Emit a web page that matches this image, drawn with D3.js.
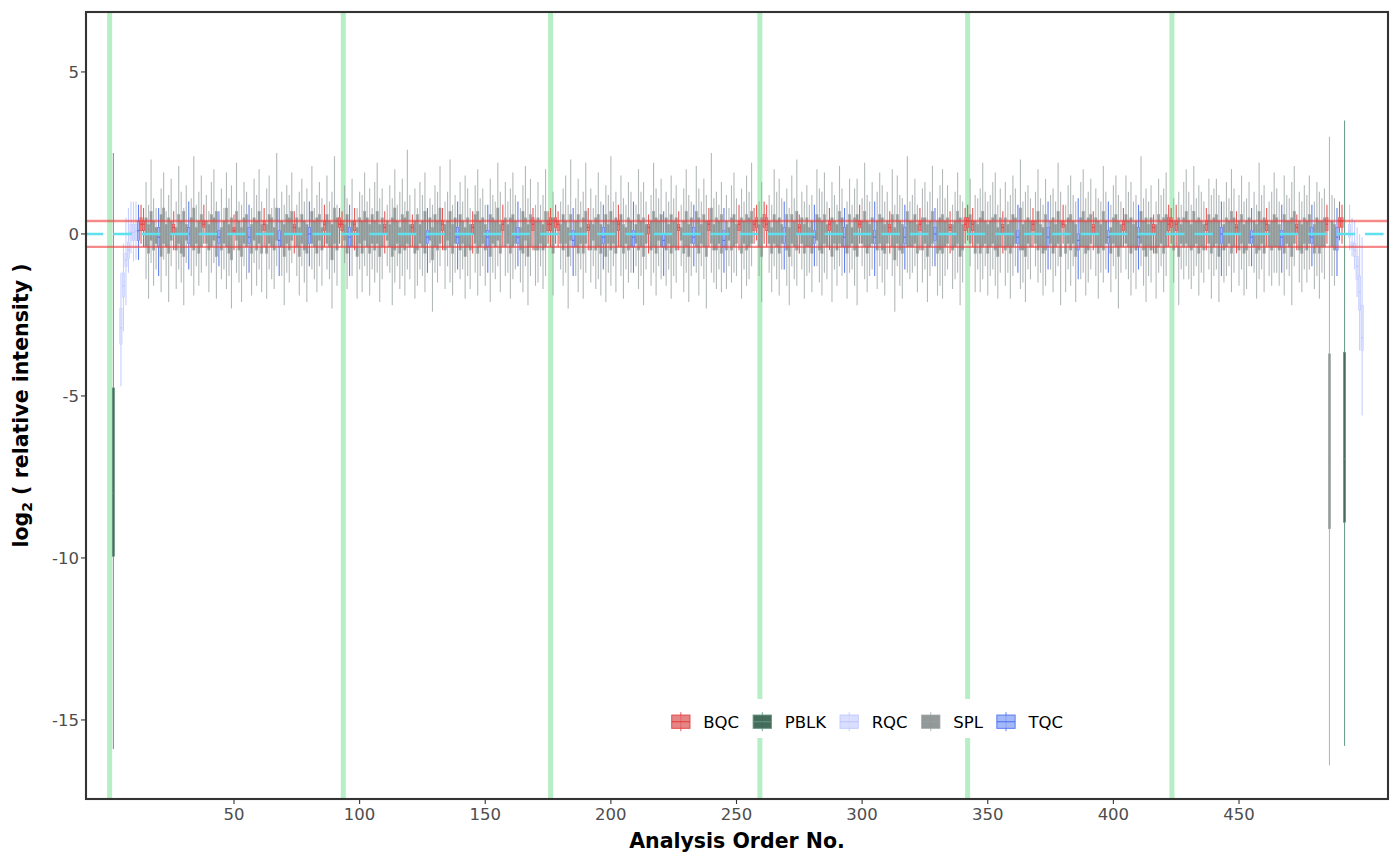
<!DOCTYPE html>
<html>
<head>
<meta charset="utf-8">
<script src="https://cdn.jsdelivr.net/npm/d3@7"></script>
<style>
  body { margin: 0; background: #fff; }
  svg { display: block; font-family: "DejaVu Sans", sans-serif; }
</style>
</head>
<body>
<div id="chart"></div>
<script>
// sample types in legend order
var sampleTypes = ['BQC', 'PBLK', 'RQC', 'SPL', 'TQC'];

// axis breaks
var xTickValues = [50, 100, 150, 200, 250, 300, 350, 400, 450];
var yTickValues = [5, 0, -5, -10, -15];

// batch boundaries (analysis order)
var batchLines = [0.5, 93.5, 176, 259.3, 342, 423.3];
// reference band
var refLine = 0;
var limitLines = [0.4, -0.4];

// --- BQC ---
var bqcOrder = [13, 14, 26, 38, 50, 62, 74, 86, 92, 93,
                98, 110, 121, 133, 145, 157, 169, 175, 176, 178,
                179, 191, 203, 215, 227, 239, 251, 257, 258, 261,
                262, 275, 287, 299, 311, 323, 335, 341, 342, 344,
                356, 368, 380, 392, 404, 416, 422, 423, 425, 437,
                449, 461, 473, 485, 490, 491];
var bqcHi = [0.9, 0.8, 0.7, 0.9, 0.6, 0.8, 0.7, 0.9, 0.8, 0.7,
             0.8, 0.7, 0.6, 0.8, 0.7, 0.9, 0.8, 0.7, 0.8, 0.9,
             0.7, 0.8, 0.9, 0.6, 0.7, 0.8, 0.9, 0.8, 0.9, 1.0,
             0.9, 0.6, 0.8, 0.9, 0.7, 0.8, 0.7, 0.8, 0.9, 0.8,
             0.7, 0.8, 0.9, 0.7, 0.8, 0.6, 0.9, 0.8, 0.9, 0.8,
             0.7, 0.8, 0.6, 0.9, 1.0, 0.9];
var bqcQ3 = [0.5, 0.4, 0.3, 0.4, 0.2, 0.4, 0.3, 0.4, 0.5, 0.4,
             0.4, 0.3, 0.3, 0.4, 0.3, 0.4, 0.5, 0.4, 0.5, 0.5,
             0.4, 0.3, 0.4, 0.3, 0.3, 0.4, 0.4, 0.4, 0.5, 0.6,
             0.5, 0.3, 0.4, 0.4, 0.3, 0.4, 0.3, 0.5, 0.5, 0.4,
             0.3, 0.4, 0.4, 0.3, 0.4, 0.3, 0.5, 0.5, 0.4, 0.4,
             0.3, 0.4, 0.3, 0.5, 0.5, 0.5];
var bqcMed = [0.3, 0.3, 0.2, 0.3, 0.1, 0.3, 0.2, 0.3, 0.3, 0.3,
              0.3, 0.2, 0.2, 0.3, 0.2, 0.3, 0.3, 0.3, 0.3, 0.4,
              0.3, 0.2, 0.3, 0.2, 0.2, 0.3, 0.3, 0.3, 0.4, 0.4,
              0.3, 0.2, 0.3, 0.3, 0.2, 0.3, 0.2, 0.3, 0.4, 0.3,
              0.2, 0.3, 0.3, 0.2, 0.3, 0.2, 0.3, 0.4, 0.3, 0.3,
              0.2, 0.3, 0.2, 0.3, 0.4, 0.4];
var bqcQ1 = [0.1, 0.1, 0.0, 0.2, 0.0, 0.1, 0.0, 0.1, 0.2, 0.1,
             0.1, 0.0, 0.0, 0.1, 0.0, 0.1, 0.1, 0.1, 0.1, 0.2,
             0.1, 0.1, 0.1, 0.0, 0.1, 0.1, 0.1, 0.1, 0.2, 0.2,
             0.1, 0.0, 0.1, 0.2, 0.0, 0.1, 0.1, 0.1, 0.2, 0.1,
             0.0, 0.1, 0.2, 0.0, 0.1, 0.0, 0.1, 0.2, 0.1, 0.1,
             0.0, 0.1, 0.0, 0.1, 0.2, 0.2];
var bqcLo = [-0.3, -0.4, -0.5, -0.3, -0.5, -0.4, -0.6, -0.4, -0.3, -0.4,
             -0.5, -0.6, -0.4, -0.5, -0.6, -0.4, -0.5, -0.3, -0.4, -0.3,
             -0.4, -0.5, -0.4, -0.6, -0.5, -0.4, -0.5, -0.3, -0.2, -0.3,
             -0.4, -0.6, -0.5, -0.3, -0.6, -0.5, -0.6, -0.3, -0.2, -0.4,
             -0.6, -0.4, -0.3, -0.5, -0.4, -0.6, -0.4, -0.3, -0.4, -0.5,
             -0.6, -0.4, -0.5, -0.3, -0.2, -0.3];

// --- TQC ---
var tqcOrder = [12, 20, 32, 44, 56, 68, 80, 96, 127, 139,
                151, 163, 185, 197, 209, 221, 233, 245, 269, 281,
                293, 305, 317, 329, 362, 374, 386, 398, 410, 443,
                455, 467, 479, 489];
var tqcHi = [0.9, 0.8, 1.0, 0.7, 0.9, 0.8, 1.0, 0.9, 0.8, 1.0,
             0.9, 1.0, 0.8, 0.9, 1.0, 0.7, 0.9, 0.8, 1.0, 0.9,
             0.8, 1.0, 0.9, 0.8, 0.9, 1.0, 1.1, 1.0, 0.9, 1.0,
             0.8, 0.9, 0.9, 0.8];
var tqcQ3 = [0.4, 0.2, 0.2, 0.1, 0.2, 0.1, 0.2, 0.2, 0.1, 0.2,
             0.1, 0.2, 0.1, 0.2, 0.1, 0.0, 0.2, 0.1, 0.2, 0.1,
             0.2, 0.1, 0.2, 0.2, 0.1, 0.2, 0.0, 0.1, 0.2, 0.2,
             0.1, 0.1, 0.2, 0.2];
var tqcMed = [0.1, -0.1, 0.0, -0.1, -0.1, -0.2, 0.0, -0.1, -0.1, -0.1,
              -0.1, -0.1, -0.2, -0.1, -0.1, -0.2, -0.1, -0.2, 0.0, -0.1,
              -0.1, -0.1, -0.1, 0.0, -0.1, -0.1, -0.2, -0.1, -0.1, 0.0,
              -0.1, -0.1, -0.1, -0.1];
var tqcQ1 = [-0.2, -0.4, -0.3, -0.3, -0.3, -0.4, -0.3, -0.4, -0.3, -0.3,
             -0.4, -0.3, -0.4, -0.3, -0.4, -0.4, -0.3, -0.4, -0.3, -0.3,
             -0.4, -0.3, -0.3, -0.2, -0.3, -0.4, -0.5, -0.3, -0.4, -0.3,
             -0.3, -0.4, -0.3, -0.5];
var tqcLo = [-0.8, -1.3, -1.1, -1.0, -1.2, -1.3, -1.0, -1.3, -1.2, -1.1,
             -1.2, -1.0, -1.3, -1.1, -1.2, -1.3, -1.0, -1.2, -1.1, -1.0,
             -1.2, -1.3, -1.1, -1.0, -1.2, -1.1, -1.4, -1.2, -1.1, -1.3,
             -1.0, -1.2, -1.0, -1.3];

// --- RQC ---
var rqcOrder = [5, 6, 7, 8, 9, 10, 11, 494, 495, 496, 497, 498, 499];
var rqcHi  = [-1.2, -0.3, 0.5, 0.8, 1.0, 1.0, 1.0, 0.9, 0.5, 0.4, 0.2, 0.0, -0.1];
var rqcQ3  = [-2.3, -1.2, -0.6, -0.25, 0.3, 0.3, 0.3, 0.3, -0.25, -0.3, -0.7, -1.3, -2.2];
var rqcMed = [-2.9, -1.6, -0.8, -0.5, 0.05, 0.05, 0.1, 0.1, -0.35, -0.5, -1.0, -1.8, -3.2];
var rqcQ1  = [-3.4, -1.95, -1.0, -0.75, -0.2, -0.2, -0.2, -0.1, -0.45, -0.7, -1.4, -2.35, -3.6];
var rqcLo  = [-4.7, -3.0, -2.2, -1.2, -0.6, -0.85, -0.8, -0.5, -0.7, -1.1, -1.95, -3.6, -5.6];

// --- PBLK ---
var pblkOrder = [2, 492];
var pblkHi  = [2.5, 3.5];
var pblkQ3  = [-4.75, -3.65];
var pblkMed = [-8.0, -6.95];
var pblkQ1  = [-9.95, -8.9];
var pblkLo  = [-15.9, -15.8];

// --- SPL: every order 15..488 that is not a QC injection ---
var splHi = [
  1.6, 0.9, 2.3, 1.1, 0.8, 1.4, 1.9, 0.7, 1.2, 1.7,
  1.0, 2.1, 1.3, 0.8, 1.5, 1.1, 2.4, 0.9, 1.3, 1.8,
  1.2, 0.7, 1.6, 2.0, 1.0, 1.4, 0.8, 1.9, 1.1, 1.5,
  2.2, 1.0, 0.9, 1.6, 1.3, 0.8, 1.7, 1.2, 2.0, 1.0,
  1.4, 1.8, 0.8, 1.1, 2.5, 1.3, 0.9, 1.5, 1.2, 1.9,
  0.9, 1.3, 1.7, 1.0, 1.4, 2.1, 0.8, 1.2, 1.6, 1.1,
  1.8, 1.0, 1.3, 2.4, 0.9, 1.5, 1.1, 1.7, 0.8, 1.3,
  1.2, 1.9, 1.0, 1.4, 0.8, 1.6, 2.2, 1.1, 1.4, 0.9,
  1.5, 1.1, 2.0, 0.9, 1.3, 1.7, 1.0, 2.6, 1.2, 1.4,
  0.8, 1.6, 1.2, 1.9, 1.1, 0.9, 1.5, 1.3, 2.1, 1.0,
  1.3, 2.3, 0.9, 1.2, 1.6, 1.0, 1.8, 1.4, 0.8, 1.5,
  2.0, 1.1, 1.4, 0.9, 1.7, 1.2, 1.0, 2.2, 1.3, 1.6,
  1.0, 1.4, 1.9, 1.2, 0.8, 1.5, 2.1, 1.1, 1.7, 0.9,
  1.6, 0.9, 1.2, 2.0, 1.3, 1.0, 1.4, 1.8, 0.9, 2.3,
  1.1, 1.7, 1.0, 1.3, 2.2, 1.4, 0.8, 1.2, 1.9, 1.0,
  1.5, 1.2, 2.4, 1.0, 1.3, 1.8, 1.1, 0.9, 1.6, 1.3,
  0.9, 2.0, 1.3, 1.6, 1.0, 1.2, 2.2, 1.4, 1.1, 1.7,
  1.3, 1.0, 1.8, 1.1, 1.5, 0.9, 1.4, 2.0, 1.2, 1.0,
  2.1, 1.4, 1.0, 1.7, 1.2, 2.5, 1.1, 1.3, 0.9, 1.6,
  1.2, 0.8, 1.5, 1.9, 1.1, 1.4, 1.0, 1.8, 1.3, 2.2,
  1.0, 1.6, 1.2, 0.9, 2.0, 1.3, 1.7, 1.1, 1.4, 0.8,
  1.8, 1.1, 2.3, 1.3, 1.0, 1.5, 0.9, 1.2, 2.0, 1.4,
  1.3, 1.9, 1.0, 1.6, 1.2, 0.9, 2.1, 1.4, 1.0, 1.7,
  0.9, 1.4, 1.7, 1.1, 2.2, 1.2, 1.0, 1.6, 1.3, 1.9,
  1.5, 1.0, 1.3, 2.0, 0.9, 1.8, 1.2, 1.1, 2.4, 1.0,
  1.2, 1.7, 0.9, 1.4, 1.6, 1.0, 1.3, 2.1, 1.1, 1.5,
  2.0, 1.1, 1.5, 0.9, 1.3, 1.9, 1.2, 1.0, 1.7, 1.2,
  1.1, 1.4, 2.2, 1.3, 1.0, 1.2, 1.6, 1.9, 0.9, 1.4,
  1.6, 1.0, 1.2, 1.8, 1.4, 2.3, 1.0, 1.3, 1.5, 1.1,
  1.3, 2.0, 1.1, 0.9, 1.7, 1.2, 1.4, 1.0, 2.2, 1.3,
  0.9, 1.5, 1.8, 1.2, 1.0, 1.6, 2.0, 1.1, 1.3, 1.7,
  1.4, 1.1, 1.0, 2.1, 1.3, 0.9, 1.5, 1.8, 1.2, 1.0,
  1.8, 1.3, 1.6, 1.0, 1.2, 2.4, 1.1, 1.4, 1.0, 1.5,
  1.0, 1.7, 1.2, 1.4, 1.9, 1.1, 1.3, 0.9, 1.6, 2.0,
  1.3, 0.9, 2.1, 1.1, 1.5, 1.3, 1.0, 1.7, 1.2, 1.4,
  1.7, 1.2, 1.0, 1.6, 1.1, 2.0, 1.4, 1.2, 1.8, 1.0,
  1.1, 1.6, 1.3, 0.9, 2.2, 1.2, 1.5, 1.0, 1.3, 1.9,
  1.4, 1.0, 1.8, 1.2, 1.1, 1.6, 2.1, 1.3, 1.0, 1.5,
  1.2, 1.8, 1.0, 1.6, 1.3, 1.1, 1.4, 3.0, 1.2, 1.1
];
var splQ3 = [
  0.5, 0.3, 0.7, 0.4, 0.2, 0.6, 0.8, 0.3, 0.5, 0.4,
  0.2, 0.6, 0.4, 0.7, 0.3, 0.5, 0.8, 0.2, 0.4, 0.6,
  0.4, 0.3, 0.6, 0.5, 0.7, 0.2, 0.4, 0.8, 0.3, 0.5,
  0.7, 0.4, 0.2, 0.5, 0.6, 0.3, 0.5, 0.4, 0.7, 0.3,
  0.3, 0.6, 0.5, 0.2, 0.8, 0.4, 0.3, 0.6, 0.5, 0.7,
  0.5, 0.2, 0.6, 0.4, 0.3, 0.7, 0.4, 0.5, 0.6, 0.2,
  0.6, 0.4, 0.3, 0.8, 0.5, 0.3, 0.6, 0.4, 0.2, 0.5,
  0.4, 0.7, 0.5, 0.3, 0.6, 0.4, 0.7, 0.3, 0.5, 0.4,
  0.3, 0.5, 0.8, 0.4, 0.2, 0.6, 0.5, 0.7, 0.3, 0.4,
  0.6, 0.3, 0.4, 0.7, 0.5, 0.2, 0.6, 0.4, 0.8, 0.3,
  0.4, 0.7, 0.3, 0.5, 0.6, 0.4, 0.2, 0.5, 0.3, 0.6,
  0.7, 0.4, 0.5, 0.3, 0.6, 0.5, 0.4, 0.8, 0.3, 0.5,
  0.3, 0.5, 0.6, 0.4, 0.2, 0.7, 0.5, 0.3, 0.6, 0.4,
  0.5, 0.4, 0.3, 0.7, 0.5, 0.3, 0.6, 0.4, 0.2, 0.6,
  0.4, 0.6, 0.2, 0.5, 0.7, 0.4, 0.3, 0.5, 0.6, 0.3,
  0.6, 0.3, 0.7, 0.4, 0.5, 0.6, 0.3, 0.2, 0.5, 0.4,
  0.3, 0.6, 0.4, 0.5, 0.3, 0.4, 0.7, 0.5, 0.4, 0.6,
  0.5, 0.3, 0.6, 0.4, 0.5, 0.2, 0.4, 0.7, 0.3, 0.5,
  0.7, 0.5, 0.3, 0.6, 0.4, 0.8, 0.3, 0.5, 0.4, 0.6,
  0.4, 0.2, 0.5, 0.6, 0.3, 0.5, 0.4, 0.6, 0.5, 0.7,
  0.3, 0.5, 0.4, 0.2, 0.6, 0.4, 0.5, 0.3, 0.6, 0.2,
  0.6, 0.4, 0.7, 0.5, 0.3, 0.5, 0.2, 0.4, 0.6, 0.5,
  0.4, 0.6, 0.3, 0.5, 0.4, 0.3, 0.7, 0.5, 0.3, 0.6,
  0.2, 0.5, 0.6, 0.4, 0.7, 0.4, 0.3, 0.5, 0.4, 0.6,
  0.5, 0.3, 0.4, 0.6, 0.2, 0.6, 0.4, 0.3, 0.7, 0.4,
  0.4, 0.6, 0.3, 0.5, 0.5, 0.3, 0.4, 0.7, 0.4, 0.5,
  0.6, 0.4, 0.5, 0.3, 0.4, 0.7, 0.5, 0.3, 0.6, 0.4,
  0.3, 0.5, 0.7, 0.4, 0.3, 0.4, 0.5, 0.6, 0.2, 0.5,
  0.5, 0.3, 0.4, 0.6, 0.5, 0.8, 0.3, 0.4, 0.5, 0.4,
  0.4, 0.7, 0.3, 0.2, 0.6, 0.4, 0.5, 0.3, 0.7, 0.4,
  0.3, 0.5, 0.6, 0.4, 0.3, 0.5, 0.7, 0.4, 0.5, 0.6,
  0.5, 0.4, 0.3, 0.7, 0.4, 0.2, 0.5, 0.6, 0.4, 0.3,
  0.6, 0.4, 0.5, 0.3, 0.4, 0.7, 0.4, 0.5, 0.3, 0.5,
  0.3, 0.6, 0.4, 0.5, 0.6, 0.4, 0.5, 0.3, 0.5, 0.7,
  0.4, 0.3, 0.7, 0.4, 0.5, 0.4, 0.3, 0.6, 0.4, 0.5,
  0.6, 0.4, 0.3, 0.5, 0.4, 0.7, 0.5, 0.4, 0.6, 0.3,
  0.4, 0.5, 0.4, 0.3, 0.7, 0.4, 0.5, 0.3, 0.4, 0.6,
  0.5, 0.3, 0.6, 0.4, 0.4, 0.5, 0.7, 0.4, 0.3, 0.5,
  0.4, 0.6, 0.3, 0.5, 0.4, 0.4, 0.5, -3.7, 0.4, 0.3
];
var splMed = [
  0.1, -0.1, 0.2, 0.0, -0.1, 0.0, 0.3, -0.1, 0.0, 0.1,
  -0.1, 0.1, 0.0, 0.2, -0.1, 0.0, 0.1, -0.1, 0.0, 0.1,
  0.0, -0.1, 0.1, 0.1, 0.0, -0.1, 0.0, 0.2, -0.1, 0.0,
  0.2, 0.0, -0.1, 0.1, 0.1, -0.1, 0.0, 0.0, 0.2, -0.1,
  -0.1, 0.1, 0.0, -0.1, 0.2, 0.0, -0.1, 0.1, 0.0, 0.1,
  0.0, -0.2, 0.1, 0.0, -0.1, 0.2, 0.0, 0.0, 0.1, -0.1,
  0.1, 0.0, -0.1, 0.2, 0.0, -0.1, 0.1, 0.0, -0.2, 0.0,
  0.0, 0.2, 0.0, -0.1, 0.1, 0.0, 0.1, -0.1, 0.0, 0.0,
  -0.1, 0.0, 0.2, 0.0, -0.1, 0.1, 0.0, 0.1, -0.1, 0.0,
  0.1, -0.1, 0.0, 0.1, 0.0, -0.2, 0.1, 0.0, 0.2, -0.1,
  0.0, 0.1, -0.1, 0.0, 0.2, 0.0, -0.1, 0.1, 0.0, 0.1,
  0.2, 0.0, 0.1, -0.1, 0.0, 0.1, 0.0, 0.2, -0.1, 0.0,
  -0.1, 0.0, 0.1, 0.0, -0.1, 0.2, 0.1, -0.1, 0.1, 0.0,
  0.1, 0.0, -0.1, 0.2, 0.0, -0.1, 0.1, 0.0, -0.1, 0.1,
  0.0, 0.1, -0.1, 0.0, 0.2, 0.1, 0.0, 0.0, 0.1, -0.1,
  0.1, -0.1, 0.2, 0.0, 0.1, 0.1, -0.1, -0.1, 0.0, 0.0,
  -0.1, 0.1, 0.0, 0.0, -0.1, 0.0, 0.2, 0.1, 0.0, 0.1,
  0.1, -0.1, 0.1, 0.0, 0.0, -0.1, 0.0, 0.2, -0.1, 0.1,
  0.2, 0.1, -0.1, 0.1, 0.0, 0.2, -0.1, 0.0, 0.0, 0.1,
  0.0, -0.1, 0.1, 0.2, -0.1, 0.0, 0.0, 0.1, 0.1, 0.2,
  -0.1, 0.0, 0.0, -0.1, 0.1, 0.0, 0.1, -0.1, 0.1, -0.2,
  0.1, 0.0, 0.2, 0.1, -0.1, 0.0, -0.1, 0.0, 0.1, 0.1,
  0.0, 0.1, -0.1, 0.0, 0.0, -0.1, 0.2, 0.1, -0.1, 0.1,
  -0.1, 0.0, 0.1, 0.0, 0.2, 0.0, -0.1, 0.1, 0.0, 0.1,
  0.1, -0.1, 0.0, 0.1, -0.2, 0.2, 0.0, -0.1, 0.2, 0.0,
  0.0, 0.1, -0.1, 0.1, 0.1, -0.1, 0.0, 0.2, 0.0, 0.1,
  0.1, 0.0, 0.1, -0.1, 0.0, 0.2, 0.0, -0.1, 0.1, 0.0,
  -0.1, 0.1, 0.2, 0.0, -0.1, 0.0, 0.1, 0.1, -0.2, 0.0,
  0.1, -0.1, 0.0, 0.1, 0.1, 0.2, -0.1, 0.0, 0.1, 0.0,
  0.0, 0.2, -0.1, -0.1, 0.1, 0.0, 0.1, -0.1, 0.2, 0.0,
  -0.1, 0.1, 0.1, 0.0, -0.1, 0.1, 0.2, 0.0, 0.1, 0.1,
  0.1, 0.0, -0.1, 0.2, 0.0, -0.1, 0.1, 0.1, 0.0, -0.1,
  0.1, 0.0, 0.1, -0.1, 0.0, 0.2, 0.0, 0.1, -0.1, 0.1,
  -0.1, 0.1, 0.0, 0.1, 0.1, 0.0, 0.0, -0.1, 0.1, 0.2,
  0.0, -0.1, 0.2, 0.0, 0.1, 0.0, -0.1, 0.1, 0.0, 0.1,
  0.1, 0.0, -0.1, 0.1, 0.0, 0.2, 0.1, 0.0, 0.1, -0.1,
  0.0, 0.1, 0.0, -0.1, 0.2, 0.0, 0.1, -0.1, 0.0, 0.1,
  0.1, -0.1, 0.1, 0.0, 0.0, 0.1, 0.2, 0.0, -0.1, 0.1,
  0.0, 0.1, -0.1, 0.1, 0.0, 0.0, 0.1, -6.9, 0.0, -0.1
];
var splQ1 = [
  -0.4, -0.6, -0.2, -0.5, -0.3, -0.7, -0.3, -0.4, -0.6, -0.2,
  -0.5, -0.3, -0.6, -0.7, -0.2, -0.4, -0.5, -0.3, -0.6, -0.4,
  -0.3, -0.5, -0.4, -0.2, -0.7, -0.5, -0.3, -0.4, -0.6, -0.8,
  -0.2, -0.5, -0.7, -0.3, -0.4, -0.6, -0.2, -0.5, -0.3, -0.6,
  -0.6, -0.3, -0.4, -0.5, -0.2, -0.4, -0.7, -0.3, -0.5, -0.2,
  -0.4, -0.7, -0.3, -0.5, -0.6, -0.3, -0.4, -0.6, -0.2, -0.5,
  -0.3, -0.4, -0.8, -0.3, -0.5, -0.2, -0.6, -0.4, -0.7, -0.3,
  -0.6, -0.2, -0.4, -0.6, -0.3, -0.5, -0.3, -0.7, -0.4, -0.2,
  -0.4, -0.7, -0.5, -0.3, -0.6, -0.4, -0.5, -0.3, -0.4, -0.6,
  -0.5, -0.3, -0.4, -0.6, -0.2, -0.8, -0.4, -0.5, -0.3, -0.5,
  -0.2, -0.4, -0.6, -0.3, -0.5, -0.3, -0.7, -0.4, -0.5, -0.3,
  -0.6, -0.4, -0.3, -0.5, -0.7, -0.3, -0.4, -0.2, -0.6, -0.4,
  -0.3, -0.6, -0.4, -0.3, -0.5, -0.6, -0.2, -0.7, -0.4, -0.5,
  -0.5, -0.3, -0.5, -0.4, -0.6, -0.3, -0.5, -0.3, -0.7, -0.2,
  -0.4, -0.6, -0.3, -0.6, -0.3, -0.5, -0.2, -0.5, -0.4, -0.6,
  -0.7, -0.3, -0.5, -0.3, -0.6, -0.4, -0.6, -0.3, -0.5, -0.4,
  -0.3, -0.5, -0.4, -0.7, -0.3, -0.5, -0.4, -0.6, -0.2, -0.4,
  -0.5, -0.3, -0.6, -0.4, -0.5, -0.2, -0.6, -0.4, -0.7, -0.3,
  -0.4, -0.6, -0.3, -0.4, -0.7, -0.3, -0.5, -0.5, -0.3, -0.6,
  -0.5, -0.2, -0.5, -0.4, -0.3, -0.6, -0.3, -0.5, -0.4, -0.3,
  -0.4, -0.7, -0.3, -0.6, -0.3, -0.4, -0.6, -0.3, -0.5, -0.7,
  -0.3, -0.4, -0.5, -0.3, -0.6, -0.4, -0.4, -0.6, -0.2, -0.5,
  -0.6, -0.3, -0.4, -0.7, -0.3, -0.5, -0.3, -0.4, -0.6, -0.4,
  -0.3, -0.5, -0.7, -0.3, -0.4, -0.6, -0.4, -0.3, -0.5, -0.3,
  -0.5, -0.6, -0.3, -0.4, -0.8, -0.3, -0.5, -0.6, -0.4, -0.4,
  -0.4, -0.3, -0.6, -0.5, -0.3, -0.7, -0.4, -0.3, -0.6, -0.5,
  -0.6, -0.4, -0.3, -0.5, -0.4, -0.3, -0.7, -0.5, -0.3, -0.6,
  -0.3, -0.6, -0.4, -0.3, -0.6, -0.4, -0.3, -0.5, -0.7, -0.4,
  -0.5, -0.4, -0.6, -0.4, -0.3, -0.5, -0.5, -0.7, -0.3, -0.4,
  -0.3, -0.5, -0.4, -0.6, -0.5, -0.3, -0.6, -0.4, -0.3, -0.7,
  -0.6, -0.3, -0.5, -0.3, -0.7, -0.4, -0.4, -0.6, -0.5, -0.3,
  -0.4, -0.6, -0.4, -0.5, -0.3, -0.6, -0.3, -0.4, -0.7, -0.4,
  -0.3, -0.4, -0.6, -0.4, -0.5, -0.3, -0.5, -0.7, -0.4, -0.5,
  -0.6, -0.4, -0.3, -0.6, -0.4, -0.5, -0.7, -0.3, -0.4, -0.3,
  -0.4, -0.5, -0.4, -0.3, -0.6, -0.4, -0.5, -0.3, -0.6, -0.4,
  -0.3, -0.7, -0.5, -0.4, -0.3, -0.6, -0.4, -0.5, -0.3, -0.6,
  -0.5, -0.3, -0.4, -0.6, -0.5, -0.3, -0.6, -0.4, -0.5, -0.4,
  -0.4, -0.5, -0.6, -0.3, -0.4, -0.7, -0.3, -0.5, -0.6, -0.3,
  -0.5, -0.3, -0.6, -0.4, -0.6, -0.4, -0.4, -9.1, -0.4, -0.5
];
var splLo = [
  -1.4, -2.0, -0.9, -1.6, -1.1, -1.8, -0.8, -1.3, -2.1, -1.0,
  -1.7, -1.1, -1.5, -2.2, -0.9, -1.3, -1.9, -1.0, -1.6, -1.2,
  -1.0, -1.8, -1.2, -0.9, -2.0, -1.4, -1.1, -1.7, -1.3, -2.3,
  -1.2, -1.5, -2.1, -1.0, -1.4, -1.9, -0.9, -1.6, -1.1, -1.8,
  -2.0, -1.1, -1.4, -1.7, -1.0, -1.3, -2.2, -1.2, -1.5, -0.9,
  -1.3, -1.9, -1.0, -1.5, -2.1, -1.1, -1.4, -1.8, -1.0, -1.6,
  -1.1, -1.4, -2.3, -1.2, -1.6, -0.9, -1.7, -1.3, -2.0, -1.1,
  -1.8, -1.0, -1.3, -1.9, -1.1, -1.5, -1.2, -2.1, -1.4, -1.0,
  -1.2, -2.2, -1.5, -1.0, -1.7, -1.3, -1.9, -1.1, -1.4, -2.0,
  -1.6, -1.1, -1.3, -1.8, -0.9, -2.4, -1.2, -1.5, -1.0, -1.7,
  -1.0, -1.5, -1.9, -1.2, -1.4, -1.1, -2.0, -1.3, -1.7, -1.2,
  -1.9, -1.3, -1.0, -1.6, -2.1, -1.2, -1.4, -1.0, -1.8, -1.3,
  -1.2, -2.0, -1.4, -1.1, -1.5, -1.8, -1.0, -2.2, -1.3, -1.6,
  -1.5, -1.0, -1.7, -1.3, -1.9, -1.1, -1.6, -1.2, -2.3, -1.0,
  -1.3, -1.8, -1.1, -2.0, -1.2, -1.5, -1.0, -1.7, -1.4, -1.9,
  -2.1, -1.2, -1.6, -1.0, -1.8, -1.3, -2.0, -1.1, -1.5, -1.2,
  -1.0, -1.7, -1.3, -2.2, -1.1, -1.6, -1.2, -1.9, -1.0, -1.4,
  -1.6, -1.1, -2.0, -1.3, -1.5, -1.0, -1.8, -1.2, -2.1, -1.3,
  -1.2, -1.9, -1.0, -1.4, -2.3, -1.2, -1.5, -1.7, -1.1, -1.8,
  -1.7, -1.0, -1.5, -1.2, -1.3, -2.0, -1.1, -1.6, -1.4, -1.0,
  -1.3, -2.1, -1.2, -1.8, -1.0, -1.4, -1.9, -1.1, -1.6, -2.2,
  -1.0, -1.4, -1.6, -1.1, -2.0, -1.3, -1.2, -1.8, -1.0, -1.5,
  -1.9, -1.2, -1.4, -2.1, -1.1, -1.6, -1.0, -1.3, -2.0, -1.2,
  -1.1, -1.6, -2.2, -1.0, -1.4, -1.8, -1.3, -1.1, -1.7, -1.0,
  -1.5, -1.9, -1.1, -1.3, -2.4, -1.0, -1.6, -2.0, -1.2, -1.4,
  -1.2, -1.0, -1.8, -1.5, -1.1, -2.1, -1.3, -1.0, -1.9, -1.6,
  -2.0, -1.3, -1.1, -1.7, -1.4, -1.2, -2.2, -1.5, -1.0, -1.8,
  -1.1, -1.8, -1.4, -1.0, -1.9, -1.3, -1.1, -1.6, -2.0, -1.2,
  -1.6, -1.2, -2.0, -1.3, -1.0, -1.7, -1.5, -2.1, -1.1, -1.4,
  -1.0, -1.5, -1.2, -1.9, -1.6, -1.1, -1.8, -1.3, -1.0, -2.2,
  -1.8, -1.1, -1.6, -1.0, -2.1, -1.4, -1.2, -1.9, -1.5, -1.1,
  -1.3, -2.0, -1.2, -1.5, -1.1, -1.8, -1.0, -1.4, -2.3, -1.2,
  -1.1, -1.4, -1.9, -1.2, -1.7, -1.0, -1.6, -2.1, -1.3, -1.5,
  -2.0, -1.2, -1.0, -1.8, -1.3, -1.5, -2.2, -1.1, -1.4, -1.0,
  -1.4, -1.7, -1.3, -1.0, -1.9, -1.2, -1.5, -1.1, -2.0, -1.3,
  -1.1, -2.1, -1.5, -1.3, -1.0, -1.8, -1.2, -1.6, -1.1, -1.9,
  -1.7, -1.0, -1.2, -2.0, -1.4, -1.1, -1.8, -1.3, -1.6, -1.2,
  -1.2, -1.6, -1.9, -1.1, -1.3, -2.2, -1.0, -1.5, -1.8, -1.1,
  -1.5, -1.1, -1.7, -1.3, -2.0, -1.2, -1.4, -16.4, -1.3, -1.6
];

// colours per sample type
var typeColors = {
    BQC:  { fill: '#e06767', stroke: '#e23c3c', fillOpacity: 0.8, strokeOpacity: 0.85 },
    PBLK: { fill: '#3b6452', stroke: '#5f9580', fillOpacity: 0.95, strokeOpacity: 0.9 },
    RQC:  { fill: '#d3d9ff', stroke: '#b9c3ff', fillOpacity: 0.85, strokeOpacity: 0.8 },
    SPL:  { fill: '#878e8e', stroke: '#9aa1a1', fillOpacity: 0.9, strokeOpacity: 0.75 },
    TQC:  { fill: '#8ea7f6', stroke: '#4f72ee', fillOpacity: 0.8, strokeOpacity: 0.9 }
};

function makeSamples(type, order, lo, q1, med, q3, hi) {
    return order.map(function(o, i) {
        return { type: type, order: o, lo: lo[i], q1: q1[i], med: med[i], q3: q3[i], hi: hi[i] };
    });
}

var qcTaken = new Set(bqcOrder.concat(tqcOrder));
var splOrder = d3.range(15, 489).filter(function(o) { return !qcTaken.has(o); });

var samples = [].concat(
    makeSamples('SPL', splOrder, splLo, splQ1, splMed, splQ3, splHi),
    makeSamples('RQC', rqcOrder, rqcLo, rqcQ1, rqcMed, rqcQ3, rqcHi),
    makeSamples('TQC', tqcOrder, tqcLo, tqcQ1, tqcMed, tqcQ3, tqcHi),
    makeSamples('BQC', bqcOrder, bqcLo, bqcQ1, bqcMed, bqcQ3, bqcHi),
    makeSamples('PBLK', pblkOrder, pblkLo, pblkQ1, pblkMed, pblkQ3, pblkHi)
).filter(function(d) { return d.lo !== undefined; });

var width = 1400, height = 865;
var panel = { left: 86, right: 1388, top: 12, bottom: 799 };

var x = d3.scaleLinear().domain([-8.9, 509.3]).range([panel.left, panel.right]);
var y = d3.scaleLinear().domain([-17.44, 6.85]).range([panel.bottom, panel.top]);
var boxW = x(0.9) - x(0);

var svg = d3.select('#chart').append('svg')
    .attr('width', width)
    .attr('height', height);

svg.append('rect').attr('width', width).attr('height', height).attr('fill', '#fff');

svg.append('clipPath').attr('id', 'panel-clip')
    .append('rect')
    .attr('x', panel.left).attr('y', panel.top)
    .attr('width', panel.right - panel.left)
    .attr('height', panel.bottom - panel.top);

var plot = svg.append('g').attr('clip-path', 'url(#panel-clip)');

// batch separators
plot.selectAll('line.batch')
    .data(batchLines)
    .enter()
    .append('line')
    .attr('class', 'batch')
    .attr('x1', function(d) { return x(d); })
    .attr('x2', function(d) { return x(d); })
    .attr('y1', panel.top)
    .attr('y2', panel.bottom)
    .attr('stroke', '#6ddf8b')
    .attr('stroke-opacity', 0.5)
    .attr('stroke-width', 5);

// boxplots
var boxes = plot.selectAll('g.box')
    .data(samples)
    .enter()
    .append('g')
    .attr('class', 'box');

boxes.append('line')
    .attr('x1', function(d) { return x(d.order); })
    .attr('x2', function(d) { return x(d.order); })
    .attr('y1', function(d) { return y(d.hi); })
    .attr('y2', function(d) { return y(d.q3); })
    .attr('stroke', function(d) { return typeColors[d.type].stroke; })
    .attr('stroke-opacity', function(d) { return typeColors[d.type].strokeOpacity; })
    .attr('stroke-width', 1.1);

boxes.append('line')
    .attr('x1', function(d) { return x(d.order); })
    .attr('x2', function(d) { return x(d.order); })
    .attr('y1', function(d) { return y(d.q1); })
    .attr('y2', function(d) { return y(d.lo); })
    .attr('stroke', function(d) { return typeColors[d.type].stroke; })
    .attr('stroke-opacity', function(d) { return typeColors[d.type].strokeOpacity; })
    .attr('stroke-width', 1.1);

boxes.append('rect')
    .attr('x', function(d) { return x(d.order) - boxW / 2; })
    .attr('width', boxW)
    .attr('y', function(d) { return y(d.q3); })
    .attr('height', function(d) { return Math.max(0.5, y(d.q1) - y(d.q3)); })
    .attr('fill', function(d) { return typeColors[d.type].fill; })
    .attr('fill-opacity', function(d) { return typeColors[d.type].fillOpacity; })
    .attr('stroke', function(d) { return typeColors[d.type].stroke; })
    .attr('stroke-opacity', function(d) { return typeColors[d.type].strokeOpacity; })
    .attr('stroke-width', 0.6);

boxes.append('line')
    .attr('x1', function(d) { return x(d.order) - boxW / 2; })
    .attr('x2', function(d) { return x(d.order) + boxW / 2; })
    .attr('y1', function(d) { return y(d.med); })
    .attr('y2', function(d) { return y(d.med); })
    .attr('stroke', function(d) { return typeColors[d.type].stroke; })
    .attr('stroke-opacity', function(d) { return typeColors[d.type].strokeOpacity; })
    .attr('stroke-width', 1.2);

// reference lines
plot.append('line')
    .attr('x1', 84.85).attr('x2', panel.right)
    .attr('y1', y(refLine)).attr('y2', y(refLine))
    .attr('stroke', '#5ee1ef')
    .attr('stroke-width', 2.6)
    .attr('stroke-dasharray', '18.5 9.95');

plot.selectAll('line.limit')
    .data(limitLines)
    .enter()
    .append('line')
    .attr('class', 'limit')
    .attr('x1', panel.left).attr('x2', panel.right)
    .attr('y1', function(d) { return y(d); })
    .attr('y2', function(d) { return y(d); })
    .attr('stroke', '#f03c3c')
    .attr('stroke-opacity', 0.6)
    .attr('stroke-width', 2.4);

// axes
var axisColor = '#333333';
var labelColor = '#4d4d4d';

var xAxis = svg.append('g');
xAxis.selectAll('line')
    .data(xTickValues)
    .enter()
    .append('line')
    .attr('x1', function(d) { return x(d); })
    .attr('x2', function(d) { return x(d); })
    .attr('y1', panel.bottom)
    .attr('y2', panel.bottom + 5)
    .attr('stroke', axisColor)
    .attr('stroke-width', 1.1);
xAxis.selectAll('text')
    .data(xTickValues)
    .enter()
    .append('text')
    .attr('x', function(d) { return x(d); })
    .attr('y', panel.bottom + 21)
    .attr('text-anchor', 'middle')
    .attr('font-size', 16.5)
    .attr('fill', labelColor)
    .text(function(d) { return d; });

var yAxis = svg.append('g');
yAxis.selectAll('line')
    .data(yTickValues)
    .enter()
    .append('line')
    .attr('x1', panel.left - 5)
    .attr('x2', panel.left)
    .attr('y1', function(d) { return y(d); })
    .attr('y2', function(d) { return y(d); })
    .attr('stroke', axisColor)
    .attr('stroke-width', 1.1);
yAxis.selectAll('text')
    .data(yTickValues)
    .enter()
    .append('text')
    .attr('x', panel.left - 7)
    .attr('y', function(d) { return y(d); })
    .attr('dy', '0.36em')
    .attr('text-anchor', 'end')
    .attr('font-size', 16.5)
    .attr('fill', labelColor)
    .text(function(d) { return String(d); });

// panel border
svg.append('rect')
    .attr('x', panel.left)
    .attr('y', panel.top)
    .attr('width', panel.right - panel.left)
    .attr('height', panel.bottom - panel.top)
    .attr('fill', 'none')
    .attr('stroke', axisColor)
    .attr('stroke-width', 2.1);

// axis titles
svg.append('text')
    .attr('x', (panel.left + panel.right) / 2)
    .attr('y', 848)
    .attr('text-anchor', 'middle')
    .attr('font-size', 20.5)
    .attr('font-weight', 'bold')
    .attr('fill', '#000')
    .text('Analysis Order No.');

var yTitle = svg.append('text')
    .attr('transform', 'translate(28,' + ((panel.top + panel.bottom) / 2) + ') rotate(-90)')
    .attr('text-anchor', 'middle')
    .attr('font-size', 20.5)
    .attr('font-weight', 'bold')
    .attr('fill', '#000');
yTitle.append('tspan').text('log');
yTitle.append('tspan').attr('font-size', 14).attr('dy', 4).text('2');
yTitle.append('tspan').attr('dy', -4).text(' ( relative intensity )');

// legend
var legend = svg.append('g');
var legendBg = legend.append('rect').attr('fill', '#fff');
var keyW = 18.3, keyH = 13.3, keyCy = 721.7;
var cursor = 671.7;
sampleTypes.forEach(function(t) {
    var c = typeColors[t];
    var g = legend.append('g');
    g.append('line')
        .attr('x1', cursor + keyW / 2).attr('x2', cursor + keyW / 2)
        .attr('y1', keyCy - 9.5).attr('y2', keyCy + 9.5)
        .attr('stroke', c.stroke).attr('stroke-opacity', c.strokeOpacity).attr('stroke-width', 1);
    g.append('rect')
        .attr('x', cursor).attr('y', keyCy - keyH / 2)
        .attr('width', keyW).attr('height', keyH)
        .attr('fill', c.fill).attr('fill-opacity', c.fillOpacity)
        .attr('stroke', c.stroke).attr('stroke-opacity', c.strokeOpacity).attr('stroke-width', 1);
    g.append('line')
        .attr('x1', cursor).attr('x2', cursor + keyW)
        .attr('y1', keyCy).attr('y2', keyCy)
        .attr('stroke', c.stroke).attr('stroke-opacity', c.strokeOpacity).attr('stroke-width', 1.2);
    var label = g.append('text')
        .attr('x', cursor + keyW + 13.3)
        .attr('y', keyCy)
        .attr('dy', '0.36em')
        .attr('font-size', 16.5)
        .attr('fill', '#000')
        .text(t);
    cursor = cursor + keyW + 13.3 + label.node().getComputedTextLength() + 14;
});
legendBg
    .attr('x', 671.7 - 11)
    .attr('y', 699)
    .attr('width', cursor - 14 + 11 - (671.7 - 11))
    .attr('height', 39);
</script>
</body>
</html>
